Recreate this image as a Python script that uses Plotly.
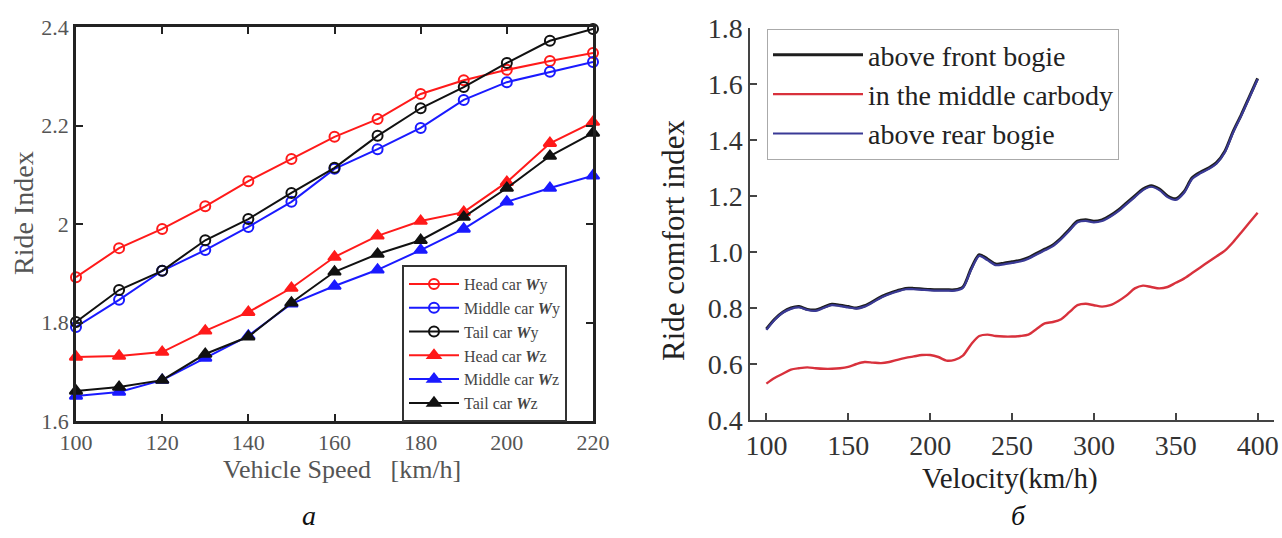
import plotly.graph_objects as go

# ---------------- left chart data ----------------
speed_a = [100, 110, 120, 130, 140, 150, 160, 170, 180, 190, 200, 210, 220]
head_wy = [1.892, 1.951, 1.990, 2.036, 2.087, 2.132, 2.177, 2.213, 2.264, 2.292, 2.313, 2.331, 2.347]
middle_wy = [1.791, 1.846, 1.905, 1.947, 1.994, 2.045, 2.112, 2.152, 2.195, 2.252, 2.288, 2.309, 2.329]
tail_wy = [1.801, 1.866, 1.905, 1.967, 2.010, 2.063, 2.114, 2.179, 2.235, 2.278, 2.327, 2.372, 2.396]
head_wz = [1.730, 1.732, 1.740, 1.783, 1.821, 1.870, 1.933, 1.976, 2.006, 2.024, 2.085, 2.164, 2.207]
middle_wz = [1.651, 1.659, 1.683, 1.728, 1.773, 1.838, 1.874, 1.907, 1.947, 1.990, 2.045, 2.073, 2.098]
tail_wz = [1.661, 1.669, 1.683, 1.736, 1.771, 1.840, 1.903, 1.939, 1.967, 2.014, 2.073, 2.138, 2.185]
x_ticks_a = [100, 120, 140, 160, 180, 200, 220]
y_ticks_a = [1.6, 1.8, 2.0, 2.2, 2.4]

# ---------------- right chart data ----------------
velocity = [100, 105, 110, 115, 120, 125, 130, 135, 140, 145, 150, 155, 160, 165, 170, 175,
            180, 185, 190, 195, 200, 205, 210, 215, 220, 225, 230, 235, 240, 245, 250, 255,
            260, 265, 270, 275, 280, 285, 290, 295, 300, 305, 310, 315, 320, 325, 330, 335,
            340, 345, 350, 355, 360, 365, 370, 375, 380, 385, 390, 395, 400]
front_bogie = [0.725, 0.760, 0.785, 0.800, 0.805, 0.795, 0.793, 0.803, 0.813, 0.810, 0.805, 0.800,
               0.808, 0.823, 0.840, 0.852, 0.862, 0.870, 0.870, 0.868, 0.866, 0.865, 0.865, 0.865,
               0.875, 0.940, 0.990, 0.975, 0.957, 0.960, 0.965, 0.970, 0.980, 0.995, 1.010, 1.025,
               1.050, 1.080, 1.110, 1.115, 1.110, 1.115, 1.130, 1.150, 1.175, 1.200, 1.225, 1.237,
               1.225, 1.200, 1.190, 1.215, 1.265, 1.285, 1.300, 1.320, 1.360, 1.430, 1.490, 1.555, 1.620]
middle_carbody = [0.530, 0.550, 0.565, 0.580, 0.585, 0.588, 0.585, 0.583, 0.583, 0.585, 0.590, 0.600,
                  0.607, 0.605, 0.603, 0.607, 0.615, 0.622, 0.627, 0.632, 0.632, 0.625, 0.612, 0.615,
                  0.630, 0.670, 0.700, 0.705, 0.700, 0.698, 0.698, 0.700, 0.705, 0.725, 0.745, 0.750,
                  0.760, 0.785, 0.810, 0.815, 0.810, 0.805, 0.810, 0.825, 0.845, 0.870, 0.880, 0.875,
                  0.870, 0.875, 0.890, 0.905, 0.925, 0.945, 0.965, 0.985, 1.005, 1.035, 1.070, 1.105, 1.140]
rear_bogie = [0.722, 0.757, 0.783, 0.797, 0.802, 0.793, 0.790, 0.800, 0.810, 0.807, 0.802, 0.798,
              0.805, 0.820, 0.837, 0.849, 0.859, 0.867, 0.867, 0.865, 0.863, 0.862, 0.862, 0.862,
              0.872, 0.936, 0.986, 0.971, 0.953, 0.956, 0.961, 0.966, 0.976, 0.991, 1.006, 1.021,
              1.046, 1.076, 1.106, 1.111, 1.106, 1.111, 1.126, 1.146, 1.171, 1.196, 1.221, 1.233,
              1.221, 1.196, 1.186, 1.211, 1.261, 1.281, 1.296, 1.316, 1.356, 1.426, 1.487, 1.552, 1.617]
x_ticks_b = [100, 150, 200, 250, 300, 350, 400]
y_ticks_b = [0.4, 0.6, 0.8, 1.0, 1.2, 1.4, 1.6, 1.8]

W, H = 1282, 538
SERIF = "Liberation Serif, Times New Roman, serif"


def px_x(p):
    return p / W


def px_y(p):
    return 1 - p / H


fig = go.Figure()

left_series = [
    ("Head car <b><i>W</i></b>y", head_wy, "#ff1a1a", "circle-open"),
    ("Middle car <b><i>W</i></b>y", middle_wy, "#1a1aff", "circle-open"),
    ("Tail car <b><i>W</i></b>y", tail_wy, "#111111", "circle-open"),
    ("Head car <b><i>W</i></b>z", head_wz, "#ff1a1a", "triangle-up"),
    ("Middle car <b><i>W</i></b>z", middle_wz, "#1a1aff", "triangle-up"),
    ("Tail car <b><i>W</i></b>z", tail_wz, "#111111", "triangle-up"),
]
for i, (name, ys, col, sym) in enumerate(left_series):
    fig.add_trace(go.Scatter(
        x=speed_a, y=ys, name=name, mode="lines+markers",
        line=dict(color=col, width=2),
        marker=dict(symbol=sym, size=10 if "circle" in sym else 11, color=col,
                    line=dict(color=col, width=2)),
        xaxis="x", yaxis="y", legend="legend", legendgroup="a%d" % i,
        cliponaxis=False,
    ))

right_series = [
    ("above front bogie", front_bogie, "#1e1e1e", 3),
    ("in the middle carbody", middle_carbody, "#d8313c", 2.4),
    ("above rear bogie", rear_bogie, "#3a3a96", 2.2),
]
for i, (name, ys, col, w) in enumerate(right_series):
    fig.add_trace(go.Scatter(
        x=velocity, y=ys, name=name, mode="lines",
        line=dict(color=col, width=w, shape="spline", smoothing=0.8),
        xaxis="x2", yaxis="y2", legend="legend2", legendgroup="b%d" % i,
    ))

tick_font_a = dict(family=SERIF, size=22, color="#555555")
tick_font_b = dict(family=SERIF, size=28, color="#333333")

fig.update_layout(
    width=W, height=H,
    margin=dict(l=0, r=0, t=0, b=0, autoexpand=False),
    paper_bgcolor="white", plot_bgcolor="white",
    xaxis=dict(domain=[px_x(76), px_x(593)], range=[100, 220], tickvals=x_ticks_a,
               showline=True, linecolor="#222222", linewidth=2.5, mirror="allticks",
               ticks="inside", ticklen=7, tickwidth=2, tickcolor="#222222",
               showgrid=False, zeroline=False, tickfont=tick_font_a, anchor="y",
               automargin=False),
    yaxis=dict(domain=[px_y(421), px_y(27)], range=[1.6, 2.4], tickvals=y_ticks_a,
               showline=True, linecolor="#222222", linewidth=2.5, mirror="allticks",
               ticks="inside", ticklen=7, tickwidth=2, tickcolor="#222222",
               showgrid=False, zeroline=False, tickfont=tick_font_a, anchor="x",
               automargin=False),
    xaxis2=dict(domain=[px_x(750), px_x(1274)], range=[90, 410], tickvals=x_ticks_b,
                showline=True, linecolor="#444444", linewidth=1.5,
                ticks="inside", ticklen=7, tickwidth=1.5, tickcolor="#444444",
                showgrid=False, zeroline=False, tickfont=tick_font_b, anchor="y2",
                automargin=False),
    yaxis2=dict(domain=[px_y(420), px_y(28)], range=[0.4, 1.8], tickvals=y_ticks_b,
                tickformat=".1f",
                showline=True, linecolor="#444444", linewidth=1.5,
                ticks="inside", ticklen=7, tickwidth=1.5, tickcolor="#444444",
                showgrid=False, zeroline=False, tickfont=tick_font_b, anchor="x2",
                automargin=False),
    legend=dict(x=px_x(402), y=px_y(265), xanchor="left", yanchor="top",
                bgcolor="white", bordercolor="#333333", borderwidth=2,
                font=dict(family=SERIF, size=16, color="#444444"),
                itemwidth=50, tracegroupgap=0),
    legend2=dict(x=px_x(767), y=px_y(29), xanchor="left", yanchor="top",
                 bgcolor="white", bordercolor="#aaaaaa", borderwidth=1,
                 font=dict(family=SERIF, size=28, color="#222222"),
                 itemwidth=90, tracegroupgap=0),
    showlegend=True,
)

annotations = [
    dict(text="Ride Index", x=px_x(23), y=px_y(213), textangle=-90,
         font=dict(family=SERIF, size=28, color="#555555")),
    dict(text="Vehicle Speed   [km/h]", x=px_x(342), y=px_y(469),
         font=dict(family=SERIF, size=26, color="#555555")),
    dict(text="Ride comfort index", x=px_x(673), y=px_y(240), textangle=-90,
         font=dict(family=SERIF, size=31, color="#222222")),
    dict(text="Velocity(km/h)", x=px_x(1010), y=px_y(478),
         font=dict(family=SERIF, size=29, color="#222222")),
    dict(text="<i>а</i>", x=px_x(309), y=px_y(515),
         font=dict(family=SERIF, size=28, color="#111111")),
    dict(text="<i>б</i>", x=px_x(1018), y=px_y(515),
         font=dict(family=SERIF, size=28, color="#111111")),
]
for a in annotations:
    a.update(xref="paper", yref="paper", showarrow=False, xanchor="center", yanchor="middle")
fig.update_layout(annotations=annotations)

fig.write_html("out.html", config={"displayModeBar": False},
               post_script="document.body.style.margin='0';document.body.style.overflow='hidden';")
